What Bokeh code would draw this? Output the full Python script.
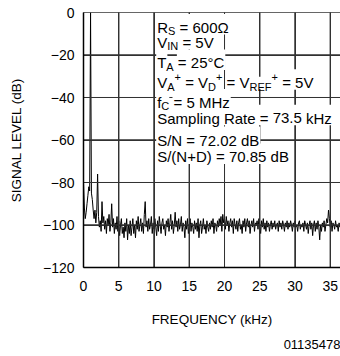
from bokeh.plotting import figure
from bokeh.models import Range1d, FixedTicker, Label, Title
from bokeh.embed import file_html
from bokeh.resources import INLINE

# ---------------- data ----------------
FREQ_STEP_KHZ = 0.125
level_db = [
    -80, -92, -97, -94, -90, -86, -82, -84,
    0, -85, -88, -93, -97, -93, -99, -94,
    -76, -96, -101, -98, -103, -89, -99, -96,
    -102, -98, -104, -97, -100, -95, -103, -99,
    -90, -101, -97, -104, -99, -102, -96, -103,
    -98, -105, -100, -97, -104, -101, -106, -99,
    -103, -97, -107, -100, -104, -98, -105, -101,
    -97, -104, -100, -106, -98, -102, -96, -103,
    -100, -97, -103, -99, -104, -95, -89, -101,
    -98, -103, -97, -102, -100, -96, -104, -99,
    -102, -97, -101, -105, -98, -103, -96, -100,
    -104, -99, -97, -102, -100, -105, -98, -101,
    -97, -103, -99, -95, -102, -98, -104, -100,
    -94, -101, -98, -103, -97, -102, -100, -96,
    -103, -99, -101, -106, -98, -102, -97, -104,
    -100, -97, -103, -99, -101, -104, -98, -102,
    -99, -103, -97, -106, -100, -98, -104, -101,
    -97, -102, -100, -104, -98, -101, -103, -99,
    -102, -98, -101, -97, -104, -99, -100, -103,
    -98, -101, -97, -100, -96, -103, -95, -99,
    -97, -102, -96, -100, -98, -103, -99, -97,
    -101, -98, -104, -97, -100, -102, -98, -103,
    -99, -97, -102, -100, -104, -98, -101, -97,
    -103, -99, -97, -101, -98, -104, -100, -98,
    -101, -97, -103, -99, -100, -98, -102, -97,
    -100, -104, -98, -101, -97, -102, -99, -103,
    -98, -101, -99, -103, -100, -98, -102, -99,
    -101, -98, -102, -100, -99, -103, -98, -101,
    -99, -102, -98, -100, -103, -99, -101, -98,
    -102, -99, -101, -98, -100, -103, -99, -101,
    -98, -101, -100, -103, -99, -98, -102, -100,
    -101, -99, -103, -98, -100, -102, -99, -104,
    -100, -98, -102, -99, -105, -100, -98, -103,
    -99, -102, -98, -101, -107, -100, -103, -99,
    -101, -98, -103, -100, -97, -99, -93, -97,
    -101, -98, -103, -99, -100, -102, -98, -101,
    -100, -103, -99, -101, -98, -102, -100,
]
freq_khz = [i * FREQ_STEP_KHZ for i in range(len(level_db))]

x_ticks = [0, 5, 10, 15, 20, 25, 30, 35]
y_ticks = [-120, -100, -80, -60, -40, -20, 0]
y_tick_labels = ["\u2212120", "\u2212100", "\u221280", "\u221260", "\u221240", "\u221220", "0"]

x_label = "FREQUENCY (kHz)"
y_label = "SIGNAL LEVEL (dB)"
figure_id = "01135478"

# condition text: (baseline in px, [(text, kind, spaces_before)])
cond_lines = [
    (27, [("R", "main", 0), ("S", "sub", 0), ("= 600\u03a9", "main", 1)]),
    (42, [("V", "main", 0), ("IN", "sub", 0), ("= 5V", "main", 1)]),
    (63, [("T", "main", 0), ("A", "sub", 0), ("= 25\u00b0C", "main", 1)]),
    (83, [("V", "main", 0), ("A", "sub", 0), ("+", "sup", 0),
          ("= V", "main", 1), ("D", "sub", 0), ("+", "sup", 0),
          ("= V", "main", 1), ("REF", "sub", 0), ("+", "sup", 0),
          ("= 5V", "main", 1)]),
    (103, [("f", "main", 0), ("C", "sub", 0), ("= 5 MHz", "main", 1)]),
    (119, [("Sampling", "main", 0), ("Rate", "main", 1), ("=", "main", 1),
           ("73.5", "main", 1), ("kHz", "main", 1)]),
    (141, [("S/N = 72.02 dB", "main", 0)]),
    (158, [("S/(N+D) = 70.85 dB", "main", 0)]),
]

# ---------------- layout ----------------
W, H = 340, 356
BORDER_L, BORDER_T, BORDER_B = 83, 12, 86
FRAME_H = H - BORDER_T - BORDER_B           # 258
FRAME_BOTTOM_PX = H - BORDER_B              # 270
X_END = 36.45
Y_MIN, Y_MAX = -120, 0
PX_PER_KHZ = (W - BORDER_L) / X_END
PX_PER_DB = FRAME_H / float(Y_MAX - Y_MIN)
FONT = "Liberation Sans"
MAIN_PX, SCRIPT_PX = 15, 11
TEXT_X0_PX = 156.7
GRID_COLOR = "#333333"
ASC, DESC = 0.905, 0.212

def x_of_px(px):
    return (px - BORDER_L) / PX_PER_KHZ

def y_of_px(py):
    return Y_MIN + (FRAME_BOTTOM_PX - py) / PX_PER_DB

ADV = {' ': 278, '(': 333, ')': 333, '+': 584, '.': 278, '/': 278, '=': 584,
       '\u00b0': 400, '\u03a9': 768, 'A': 667, 'B': 667, 'C': 722, 'D': 722,
       'E': 667, 'F': 611, 'H': 722, 'I': 278, 'M': 833, 'N': 722, 'R': 722,
       'S': 667, 'T': 611, 'V': 667, 'a': 556, 'd': 556, 'e': 556, 'f': 278,
       'g': 556, 'i': 222, 'k': 500, 'l': 222, 'm': 833, 'n': 556, 'p': 556,
       't': 278, 'z': 500}
def text_w(s, px):
    return sum(ADV.get(c, 556) for c in s) * px / 1000.0

p = figure(width=W, height=H, x_range=Range1d(0, X_END), y_range=Range1d(Y_MIN, Y_MAX),
           output_backend="svg", toolbar_location=None,
           min_border_left=BORDER_L, min_border_top=BORDER_T,
           min_border_bottom=BORDER_B, min_border_right=0)
p.outline_line_color = None
p.background_fill_color = "white"
p.border_fill_color = "white"

for ax in (p.xaxis[0], p.yaxis[0]):
    ax.axis_line_color = "black"
    ax.axis_line_width = 1.5
    ax.major_tick_in = 0
    ax.major_tick_out = 0
    ax.minor_tick_in = 0
    ax.minor_tick_out = 0
    ax.major_label_text_font = FONT
    ax.major_label_text_font_size = "14px"
    ax.major_label_text_color = "black"
    ax.axis_label_text_font = FONT
    ax.axis_label_text_font_size = "13.5px"
    ax.axis_label_text_font_style = "normal"
    ax.axis_label_text_color = "black"

p.xaxis.ticker = FixedTicker(ticks=x_ticks)
p.yaxis.ticker = FixedTicker(ticks=y_ticks)
p.yaxis.major_label_overrides = {t: l for t, l in zip(y_ticks, y_tick_labels)}
p.xaxis.axis_label = x_label
p.yaxis.axis_label = y_label
p.xaxis.major_label_standoff = 13
p.xaxis.axis_label_standoff = 18
p.yaxis.major_label_standoff = 9
p.yaxis.axis_label_standoff = 16

# native grid at the tick values
p.xgrid.ticker = FixedTicker(ticks=x_ticks)
p.ygrid.ticker = FixedTicker(ticks=y_ticks)
for g in (p.xgrid[0], p.ygrid[0]):
    g.grid_line_color = GRID_COLOR
    g.grid_line_width = 1
    g.grid_line_alpha = 1.0

# spectrum
p.line(freq_khz, level_db, line_color="black", line_width=1)

# grid as 1-px filled strips at the tick values
hw = 0.5 / PX_PER_KHZ
hh = 0.5 / PX_PER_DB
p.quad(left=[t - hw for t in x_ticks], right=[t + hw for t in x_ticks],
       bottom=[Y_MIN] * len(x_ticks), top=[Y_MAX] * len(x_ticks),
       fill_color=GRID_COLOR, line_color=None)
p.quad(left=[0] * len(y_ticks), right=[X_END] * len(y_ticks),
       bottom=[t - hh for t in y_ticks], top=[t + hh for t in y_ticks],
       fill_color=GRID_COLOR, line_color=None)

# grid as one continuous, very slightly slanted serpentine stroke
eps_x, eps_y = 0.002, 0.004
grid_x, grid_y = [], []
for i, t in enumerate(x_ticks):
    if i % 2 == 0:
        grid_x += [t, t + eps_x]
        grid_y += [Y_MIN - 2, Y_MAX + 2]
    else:
        grid_x += [t + eps_x, t]
        grid_y += [Y_MAX + 2, Y_MIN - 2]
for i, t in enumerate(y_ticks):
    if i % 2 == 0:
        grid_x += [-2, X_END + 2]
        grid_y += [t, t + eps_y]
    else:
        grid_x += [X_END + 2, -2]
        grid_y += [t + eps_y, t]
p.line(grid_x, grid_y, line_color=GRID_COLOR, line_width=1)

# condition text block: white masks behind the words, then the words
mask_l, mask_r, mask_t, mask_b = [], [], [], []
main_labels, script_labels = [], []
for baseline, pieces in cond_lines:
    xo = TEXT_X0_PX
    for txt, kind, sp in pieces:
        xo += sp * text_w(" ", MAIN_PX)
        size = MAIN_PX if kind == "main" else SCRIPT_PX
        shift = {"main": 0, "sub": 4, "sup": -6}[kind]
        bl = baseline + shift
        w = text_w(txt, size)
        pad_x = 1 if kind == "main" else 0
        pad_b = 4 if kind == "main" else 0
        mask_l.append(x_of_px(xo - pad_x))
        mask_r.append(x_of_px(xo + w + pad_x))
        mask_t.append(y_of_px(bl - ASC * size))
        mask_b.append(y_of_px(bl + DESC * size + pad_b))
        lab = Label(x=x_of_px(xo), y=y_of_px(bl), text=txt,
                    text_font=FONT, text_font_size=f"{size}px",
                    text_color="black", text_align="left",
                    text_baseline="alphabetic")
        (main_labels if kind == "main" else script_labels).append(lab)
        xo += w

p.quad(left=mask_l, right=mask_r, top=mask_t, bottom=mask_b,
       fill_color="white", line_color=None)
for lab in main_labels + script_labels:
    p.add_layout(lab)

# figure id, bottom right
p.add_layout(Title(text=figure_id, align="right", text_font=FONT,
                   text_font_size="13px", text_font_style="normal",
                   text_color="black", standoff=16), "below")

open("out.html", "w").write(file_html(p, INLINE))
